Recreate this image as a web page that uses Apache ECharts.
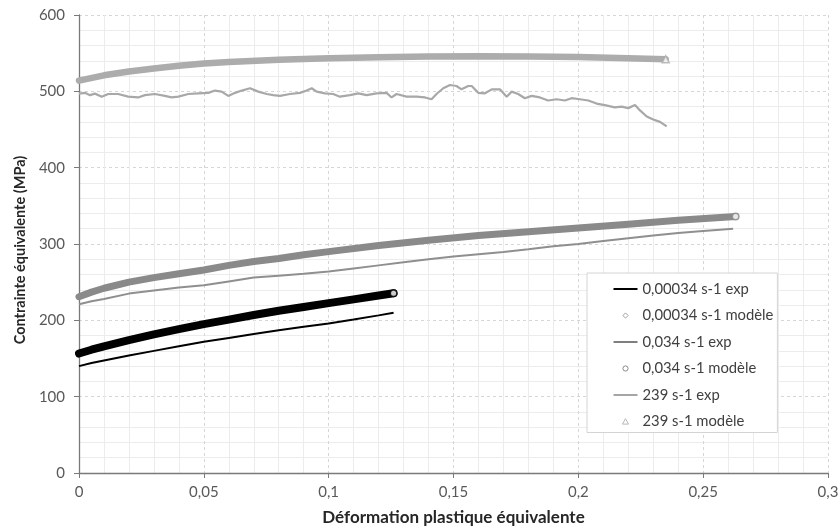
<!DOCTYPE html>
<html>
<head>
<meta charset="utf-8">
<script src="https://cdn.jsdelivr.net/npm/echarts@6/dist/echarts.min.js"></script>
<style>html,body{margin:0;padding:0;background:#fff}#c{width:840px;height:529px}</style>
</head>
<body>
<div id="c"></div>
<script>
// ---- Data ----
const seriesNames = ['0,00034 s-1 exp','0,00034 s-1 modèle','0,034 s-1 exp','0,034 s-1 modèle','239 s-1 exp','239 s-1 modèle'];

const strainA = [0,0.005,0.01,0.02,0.03,0.04,0.05,0.06,0.07,0.08,0.09,0.1,0.11,0.12,0.126];
const stressAExp = [140,144,147.5,154,160,166,172,177,182,187,191.5,196,201,206.5,210];
const stressAMod = [156.5,161.5,166,174,181.5,188.5,195,201,207,212.5,217.5,222.5,227.5,232.5,235.5];

const strainBMod = [0,0.005,0.01,0.02,0.03,0.04,0.05,0.06,0.07,0.08,0.09,0.1,0.12,0.14,0.16,0.18,0.2,0.22,0.24,0.263];
const stressBMod = [231,237,242,250,256,261,266,272,277,281,286,290,298,305,311,316,321,326,331,336];

const strainBExp = [0,0.005,0.01,0.02,0.03,0.04,0.05,0.06,0.07,0.08,0.09,0.1,0.11,0.12,0.13,0.14,0.15,0.16,0.17,0.18,0.19,0.2,0.21,0.22,0.23,0.24,0.25,0.262];
const stressBExp = [221,225,228,235,239,243,246,251,256,258.5,261,264,268,272,276,280,283.5,286.5,289.5,293,297,300,304,307.5,311,314.5,317,320];

const strainCMod = [0,0.01,0.02,0.03,0.04,0.05,0.06,0.08,0.1,0.12,0.14,0.16,0.18,0.2,0.22,0.235];
const stressCMod = [514,521,526,530,533.5,536.5,538.5,541.5,543.5,544.5,545.5,546,545.5,545,543.5,542];

const strainCExp = [0,0.0004,0.0024,0.0044,0.0064,0.0091,0.0117,0.0157,0.0197,0.0237,0.0264,0.0304,0.0344,0.0371,0.0398,0.0438,0.0478,0.0518,0.0545,0.0571,0.0598,0.0625,0.0652,0.0685,0.0718,0.0752,0.0778,0.0805,0.0845,0.0885,0.0912,0.0932,0.0952,0.0985,0.1018,0.1045,0.1085,0.1119,0.1152,0.1192,0.1232,0.1252,0.1272,0.1312,0.1352,0.1386,0.1412,0.1432,0.1459,0.1486,0.1512,0.1532,0.1559,0.1573,0.1599,0.1626,0.1653,0.1686,0.1713,0.1733,0.1759,0.1786,0.1813,0.1846,0.1879,0.1913,0.1946,0.1973,0.2006,0.2040,0.2073,0.2106,0.2146,0.2173,0.2200,0.2227,0.2247,0.2274,0.2300,0.2327,0.2354];
const stressCExp = [497,496.5,498,495,497,493,496.5,496.5,493,492,495,496.5,494,492,493,496.5,497.4,498,501,499.6,494,498,501,504,499.6,496.5,495,494,496.5,498,501,504,499.6,497.4,496.5,493,495,497.4,495,497.4,498,492,496.5,493,493,492,489.6,496.5,504,508.3,507,502.6,507,507,498,497.4,502.6,502.6,493,499.6,496.5,491,494,492,488,489.6,488,491,489.6,488,484,482,479,480,478,482,475,467,463,460,454];

const xTickValues = [0,0.05,0.1,0.15,0.2,0.25,0.3];
const yTickValues = [0,100,200,300,400,500,600];

// ---- Chart ----
const FONT = 'Lato';
function pairs(xs, ys){ return xs.map((x,i)=>[x, ys[i]]); }
function last(xs, ys){ return [[xs[xs.length-1], ys[ys.length-1]]]; }

const cBlack = '#000000', cMid = '#8a8a8a', cMidExp = '#8f8f8f', cLight = '#acacac', cLightExp = '#a8a8a8';

// legend icons drawn inside a 24x6 box (corner move-points fix the box)
const BOX = 'M0,0M24,6';
const iconLine = 'path://' + BOX + 'M0,2h24v2h-24z';
const iconDiamond = 'path://' + BOX + 'M12,0.4L14.6,3L12,5.6L9.4,3Z';
const iconCircle = 'path://' + BOX + 'M9.4,3A2.6,2.6,0,1,1,14.6,3A2.6,2.6,0,1,1,9.4,3Z';
const iconTriangle = 'path://' + BOX + 'M12,0.2L15,5.6L9,5.6Z';

const chart = echarts.init(document.getElementById('c'), null, {renderer:'canvas'});
chart.setOption({
  animation:false,
  backgroundColor:'#ffffff',
  grid:{left:79, right:12, top:15, bottom:56, containLabel:false, outerBoundsMode:'none'},
  xAxis:{
    type:'value', min:xTickValues[0], max:xTickValues[xTickValues.length-1], interval:0.05,
    name:'Déformation plastique équivalente', nameLocation:'middle', nameGap:36,
    nameTextStyle:{fontFamily:FONT, fontWeight:'bold', fontSize:17, color:'#262626'},
    axisLine:{show:true, lineStyle:{color:'#7a7a7a', width:1.3}},
    axisTick:{show:true, length:5, lineStyle:{color:'#7a7a7a'}},
    minorTick:{show:false, splitNumber:5},
    axisLabel:{fontFamily:FONT, fontSize:15, color:'#595959', margin:12,
      formatter:v=>String(+v.toFixed(2)).replace('.', ',')},
    splitLine:{show:true, lineStyle:{color:'#d6d6d6', type:[3,3], width:1}},
    minorSplitLine:{show:true, lineStyle:{color:'#ececec', width:1}}
  },
  yAxis:{
    type:'value', min:yTickValues[0], max:yTickValues[yTickValues.length-1], interval:100,
    name:'Contrainte équivalente (MPa)', nameLocation:'middle', nameGap:48,
    nameTextStyle:{fontFamily:FONT, fontWeight:'bold', fontSize:14.5, color:'#262626', padding:[0,12,0,0]},
    axisLine:{show:true, lineStyle:{color:'#7a7a7a', width:1.3}},
    axisTick:{show:true, length:5, lineStyle:{color:'#7a7a7a'}},
    minorTick:{show:false, splitNumber:5},
    axisLabel:{fontFamily:FONT, fontSize:15, color:'#595959', margin:14},
    splitLine:{show:true, lineStyle:{color:'#d6d6d6', type:[3,3], width:1}},
    minorSplitLine:{show:true, lineStyle:{color:'#ececec', width:1}}
  },
  legend:{
    orient:'vertical', left:587, top:273, padding:[7,4,2,26], itemGap:8.5,
    itemWidth:24, itemHeight:6,
    backgroundColor:'#ffffff', borderColor:'#d4d4d4', borderWidth:1, borderRadius:0,
    textStyle:{fontFamily:FONT, fontSize:14.8, color:'#404040', lineHeight:18},
    data:[
      {name:seriesNames[0], icon:iconLine, itemStyle:{color:cBlack, borderWidth:0}},
      {name:seriesNames[1], icon:iconDiamond, itemStyle:{color:'#ffffff', borderColor:'#a0a0a0', borderWidth:1}},
      {name:seriesNames[2], icon:iconLine, itemStyle:{color:'#7f7f7f', borderWidth:0}},
      {name:seriesNames[3], icon:iconCircle, itemStyle:{color:'#ffffff', borderColor:'#8a8a8a', borderWidth:1}},
      {name:seriesNames[4], icon:iconLine, itemStyle:{color:'#a5a5a5', borderWidth:0}},
      {name:seriesNames[5], icon:iconTriangle, itemStyle:{color:'#ffffff', borderColor:'#b8b8b8', borderWidth:1}}
    ]
  },
  series:[
    {name:seriesNames[0], type:'line', symbol:'none', data:pairs(strainA, stressAExp),
      lineStyle:{color:cBlack, width:2}, itemStyle:{color:cBlack}, z:3},
    {name:seriesNames[1], type:'line', symbol:'none', data:pairs(strainA, stressAMod),
      lineStyle:{color:cBlack, width:8, cap:'round'}, itemStyle:{color:cBlack}, z:2},
    {name:seriesNames[2], type:'line', symbol:'none', data:pairs(strainBExp, stressBExp),
      lineStyle:{color:cMidExp, width:2}, itemStyle:{color:cMidExp}, z:3},
    {name:seriesNames[3], type:'line', symbol:'none', data:pairs(strainBMod, stressBMod),
      lineStyle:{color:cMid, width:7, cap:'round'}, itemStyle:{color:cMid}, z:2},
    {name:seriesNames[4], type:'line', symbol:'none', data:pairs(strainCExp, stressCExp),
      lineStyle:{color:cLightExp, width:2.2}, itemStyle:{color:cLightExp}, z:3},
    {name:seriesNames[5], type:'line', symbol:'none', data:pairs(strainCMod, stressCMod),
      lineStyle:{color:cLight, width:6.5, cap:'round'}, itemStyle:{color:cLight}, z:2},
    {type:'scatter', data:last(strainA, stressAMod), symbol:'circle', symbolSize:6.5, silent:true, z:5,
      itemStyle:{color:'#ffffff', borderColor:cBlack, borderWidth:1.5}},
    {type:'scatter', data:last(strainBMod, stressBMod), symbol:'circle', symbolSize:6.5, silent:true, z:5,
      itemStyle:{color:'#ffffff', borderColor:cMid, borderWidth:1.5}},
    {type:'scatter', data:last(strainCMod, stressCMod), symbol:'triangle', symbolSize:7, silent:true, z:5,
      itemStyle:{color:'#ffffff', borderColor:cLight, borderWidth:1.5}}
  ]
});
</script>
</body>
</html>
